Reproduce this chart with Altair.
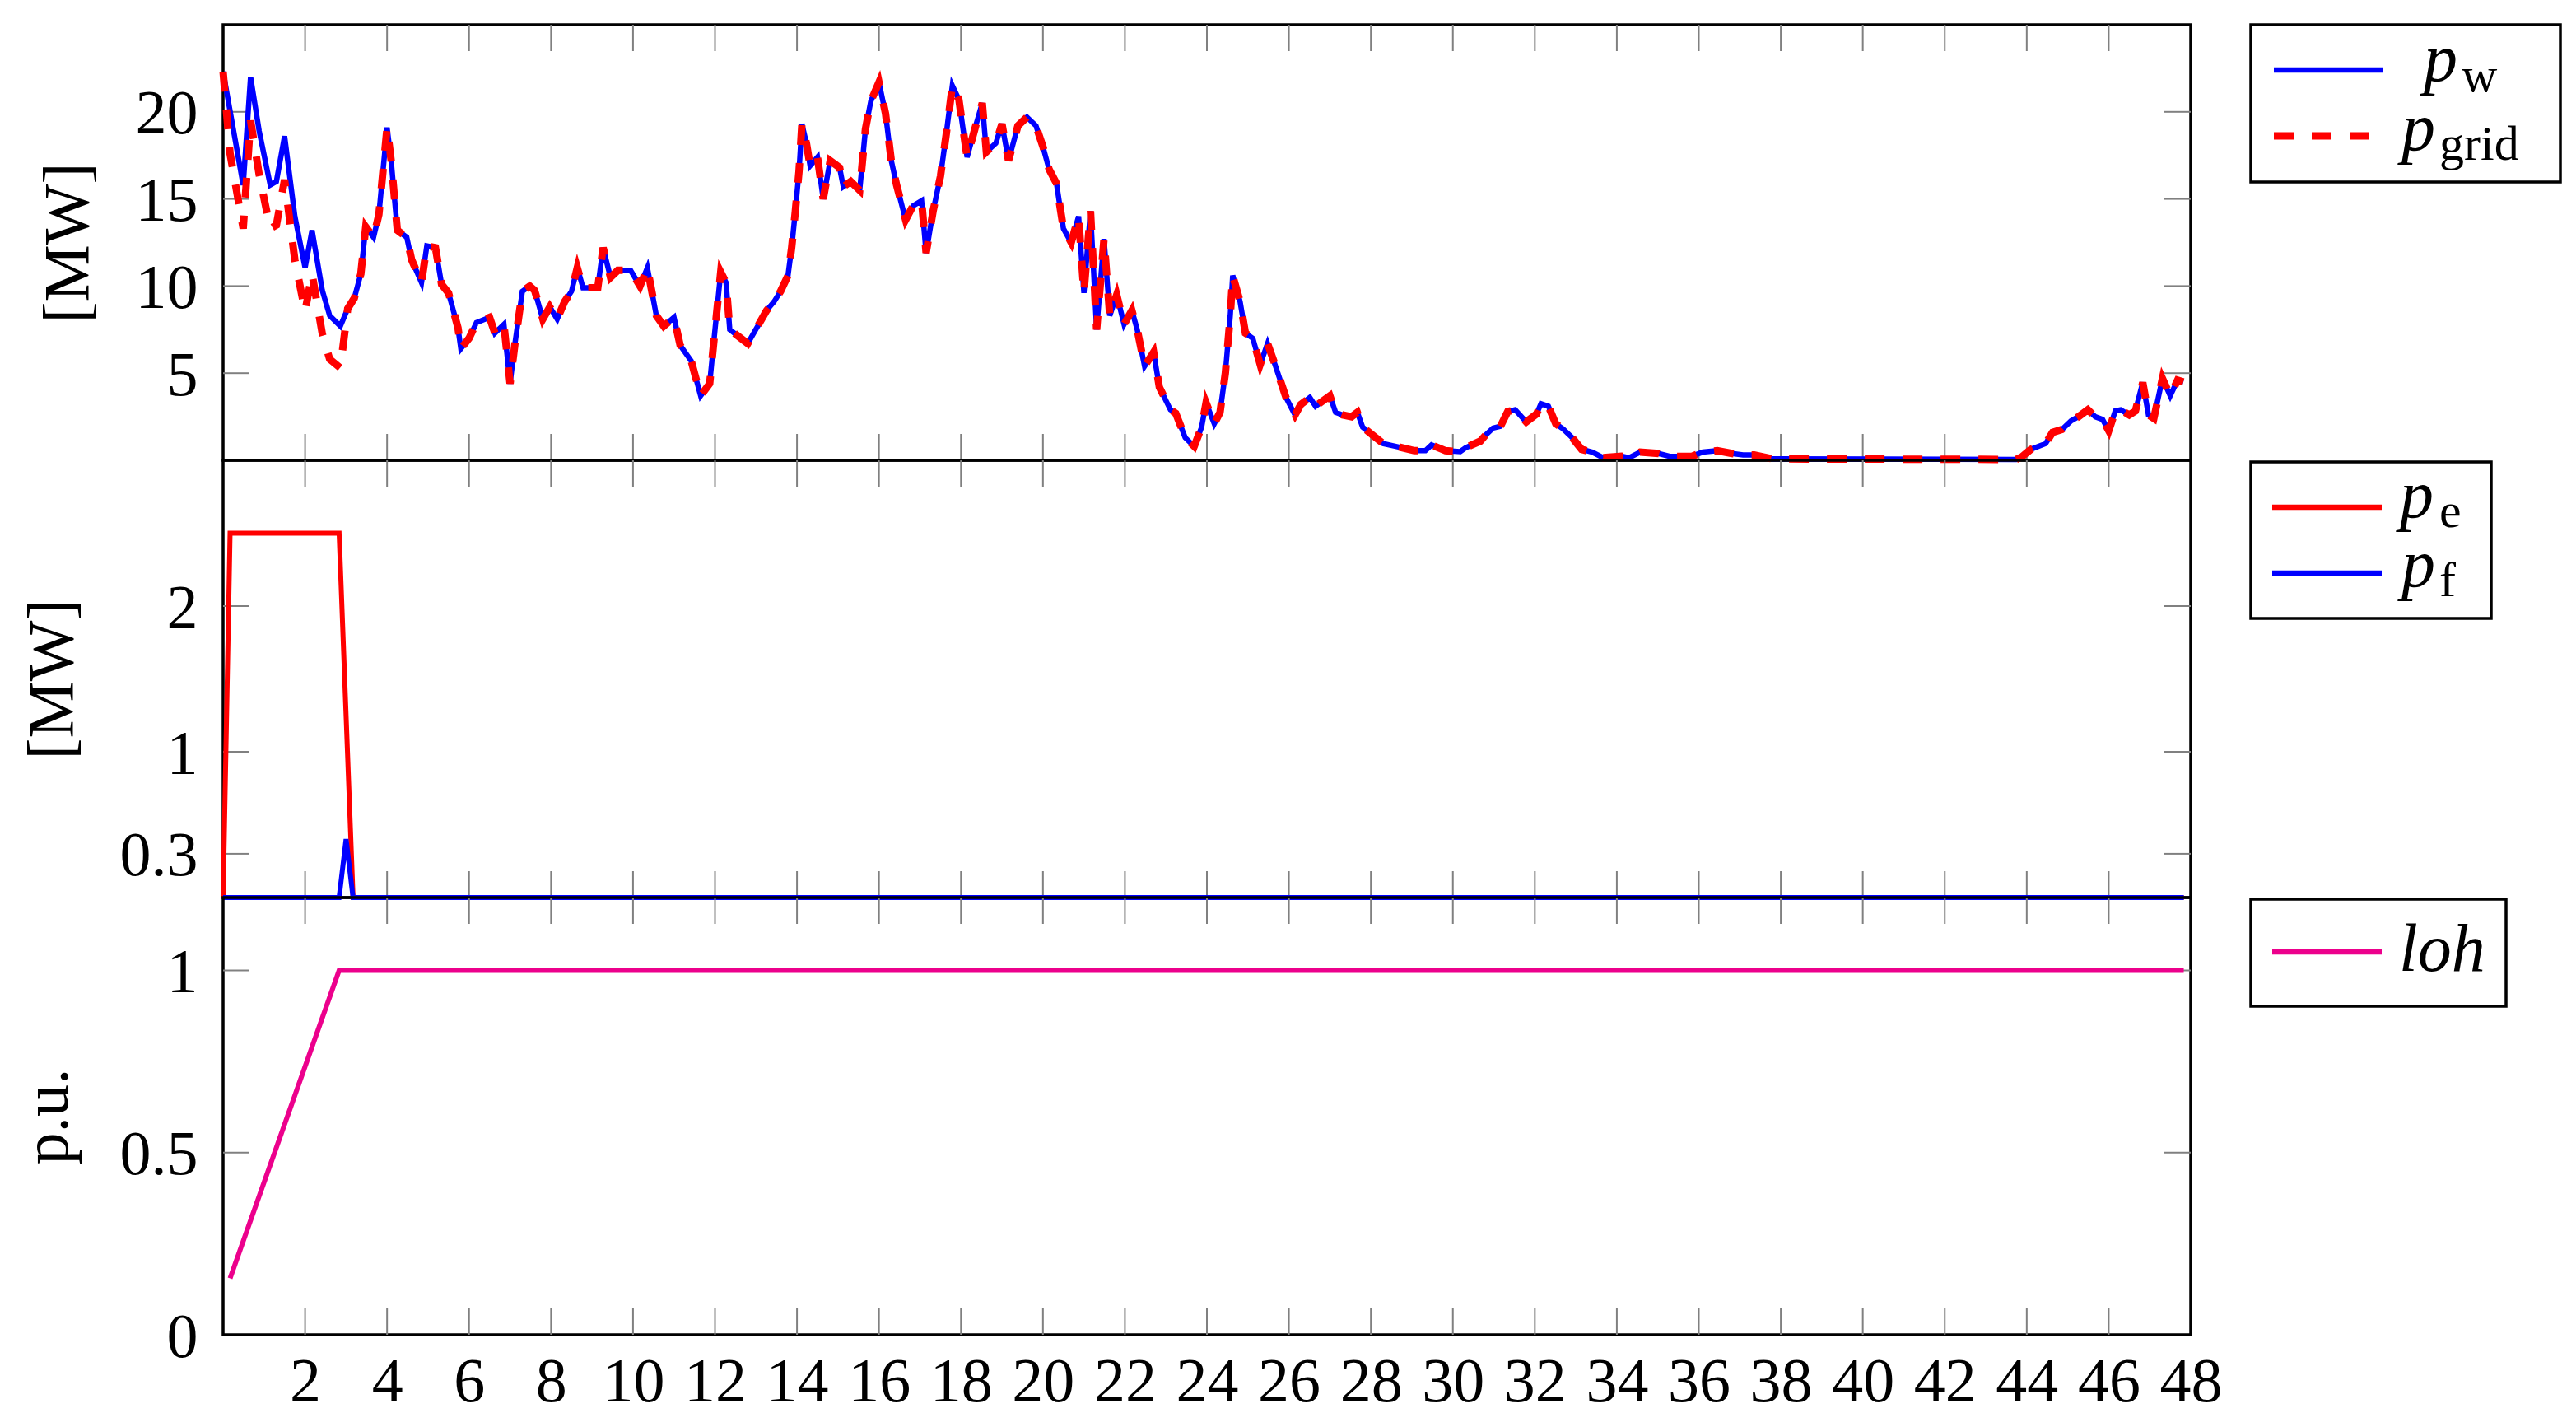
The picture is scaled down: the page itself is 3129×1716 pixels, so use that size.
import altair as alt
import pandas as pd

# ---------------- data ----------------
# wind power p_w [MW] and grid power p_grid [MW]; first hours differ, rest identical
t_head_w = [0.0, 0.49, 0.67, 0.88, 1.15, 1.30, 1.50, 1.75, 2.00, 2.17, 2.42, 2.60, 2.86]
p_head_w = [22.3, 15.8, 22.0, 18.9, 15.8, 16.0, 18.6, 14.0, 11.05, 13.2, 9.75, 8.3, 7.7]

t_head_grid = [0.0, 0.17, 0.49, 0.67, 0.88, 1.15, 1.30, 1.50, 1.75, 2.00, 2.17, 2.42, 2.60, 2.86]
p_head_grid = [22.3, 17.6, 13.3, 19.5, 16.4, 13.3, 13.5, 16.1, 11.5, 8.55, 10.7, 7.25, 5.8, 5.3]

t_shared = [
    3.04, 3.20, 3.36, 3.48, 3.67, 3.80, 4.00, 4.10, 4.25, 4.48, 4.60, 4.84, 4.97, 5.18, 5.33,
    5.50, 5.73, 5.80, 6.00, 6.18, 6.50, 6.63, 6.85, 7.00, 7.12, 7.30, 7.48, 7.60, 7.80, 7.97,
    8.15, 8.33, 8.50, 8.64, 8.78, 9.14, 9.27, 9.45, 9.63, 9.94, 10.17, 10.35, 10.57, 10.75, 11.00,
    11.15, 11.42, 11.65, 11.87, 12.00, 12.14, 12.27, 12.36, 12.80, 13.26, 13.44, 13.60, 13.78, 13.87, 13.96,
    14.05, 14.12, 14.23, 14.32, 14.50, 14.64, 14.81, 15.04, 15.13, 15.31, 15.53, 15.67, 15.80, 16.00, 16.16,
    16.30, 16.43, 16.65, 16.83, 17.04, 17.15, 17.32, 17.50, 17.64, 17.79, 17.95, 18.04, 18.15, 18.36, 18.52,
    18.62, 18.85, 19.00, 19.16, 19.39, 19.61, 19.83, 20.00, 20.15, 20.33, 20.42, 20.50, 20.69, 20.87, 21.00,
    21.16, 21.31, 21.49, 21.63, 21.80, 21.98, 22.17, 22.30, 22.48, 22.70, 22.84, 23.11, 23.24, 23.47, 23.69,
    23.87, 23.98, 24.18, 24.32, 24.45, 24.57, 24.63, 24.81, 24.94, 25.12, 25.30, 25.48, 25.66, 25.93, 26.15,
    26.29, 26.51, 26.65, 27.00, 27.14, 27.31, 27.53, 27.67, 27.80, 28.12, 28.30, 28.61, 28.92, 29.06, 29.33,
    29.48, 29.82, 30.18, 30.31, 30.67, 30.80, 30.98, 31.16, 31.34, 31.52, 31.79, 32.04, 32.15, 32.33, 32.51,
    32.69, 32.91, 33.14, 33.40, 33.67, 34.12, 34.30, 34.57, 35.02, 35.29, 35.83, 36.10, 36.45, 36.81, 37.08,
    37.35, 37.80, 43.74, 43.87, 44.10, 44.46, 44.63, 44.86, 45.08, 45.26, 45.49, 45.67, 45.85, 46.00, 46.16,
    46.29, 46.50, 46.65, 46.83, 46.97, 47.10, 47.31, 47.50, 47.68, 47.82,
]
p_shared = [
    8.7, 9.3, 10.7, 13.4, 12.8, 14.1, 19.1, 17.2, 13.2, 12.8, 11.5, 10.2, 12.3, 12.2, 10.1,
    9.6, 7.6, 6.4, 7.0, 7.9, 8.2, 7.3, 7.8, 4.4, 6.7, 9.7, 10.0, 9.75, 8.1, 8.8,
    8.1, 9.1, 9.7, 11.05, 9.9, 9.9, 12.2, 10.5, 10.9, 10.9, 10.0, 11.05, 8.3, 7.7, 8.2,
    6.6, 5.7, 3.7, 4.4, 7.5, 10.8, 10.2, 7.5, 6.7, 8.6, 9.1, 9.7, 10.6, 12.2, 14.3,
    16.6, 19.3, 18.2, 16.9, 17.4, 15.0, 17.2, 16.8, 15.7, 16.0, 15.5, 19.0, 20.6, 21.7, 19.9,
    17.2, 15.8, 13.8, 14.6, 14.9, 11.9, 14.3, 16.3, 18.7, 21.5, 20.7, 19.2, 17.4, 19.2, 20.5,
    17.7, 18.2, 19.3, 17.2, 19.2, 19.7, 19.2, 18.0, 16.7, 15.9, 14.5, 13.3, 12.5, 14.0, 9.6,
    14.3, 7.5, 12.7, 8.3, 9.5, 7.8, 8.6, 7.5, 5.4, 6.2, 4.2, 2.9, 2.7, 1.3, 0.8,
    1.9, 3.3, 2.1, 2.75, 5.0, 8.3, 10.6, 9.1, 7.3, 7.0, 5.5, 6.7, 5.5, 3.6, 2.6,
    3.2, 3.6, 3.1, 3.7, 2.75, 2.6, 2.5, 2.75, 1.9, 1.3, 0.96, 0.8, 0.63, 0.55, 0.55,
    0.88, 0.55, 0.5, 0.72, 1.1, 1.45, 1.85, 1.95, 2.8, 2.9, 2.2, 2.65, 3.25, 3.1, 2.1,
    1.8, 1.3, 0.63, 0.47, 0.15, 0.23, 0.15, 0.47, 0.39, 0.23, 0.23, 0.47, 0.55, 0.39, 0.31,
    0.31, 0.08, 0.05, 0.18, 0.63, 0.96, 1.6, 1.77, 2.26, 2.5, 2.9, 2.5, 2.34, 1.7, 2.83,
    2.9, 2.6, 2.83, 4.46, 2.6, 2.4, 4.7, 3.7, 4.6, 4.5,
]

t_w = t_head_w + t_shared
p_w = p_head_w + p_shared
t_grid = t_head_grid + t_shared
p_grid = p_head_grid + p_shared

# electrolyser p_e and fuel cell p_f [MW]
t_e = [0.0, 0.17, 2.83, 3.17, 47.83]
p_e = [0.0, 2.5, 2.5, 0.0, 0.0]
t_f = [0.0, 2.83, 3.0, 3.17, 47.83]
p_f = [0.0, 0.0, 0.4, 0.0, 0.0]

# level of hydrogen [p.u.]
t_loh = [0.17, 2.83, 47.83]
loh = [0.155, 1.0, 1.0]

x_tick_values = list(range(2, 49, 2))
x_inner_ticks = list(range(2, 47, 2))
y1_ticks = [5, 10, 15, 20]
y2_ticks = [0.3, 1, 2]
y3_ticks = [0, 0.5, 1]

# ---------------- style ----------------
W = 2390
H1, H2, H3 = 529, 531, 531
FONT = "Liberation Serif"
TICK = "#808080"
BLUE = "#0000FF"
RED = "#FF0000"
PINK = "#EC008C"
TL = 32  # inward tick length

one = pd.DataFrame({"k": [0]})


def xs():
    return alt.Scale(domain=[0, 48], nice=False, zero=False)


def ys(dom):
    return alt.Scale(domain=dom, nice=False, zero=False)


def yaxis(vals, title, tx, H):
    return alt.Axis(values=vals, title=title, format="~g", titleX=tx, titleY=H / 2,
                    titleAngle=270, titleAlign="center", titleBaseline="middle",
                    labelPadding=31, labelOffset=3, labelFlush=False, labelOverlap=False,
                    domain=False, ticks=False, tickSize=0, grid=False)


def xaxis_bottom():
    return alt.Axis(values=x_tick_values, format="d", title=None,
                    labelPadding=20, labelFlush=False, labelOverlap=False,
                    domain=False, ticks=False, tickSize=0, grid=False)


def inner_ticks(H, yt, dom, yax, xax):
    xt = pd.DataFrame({"t": x_inner_ticks})
    ydf = pd.DataFrame({"v": [v for v in yt if 0 < v < dom[1]]})
    bx = alt.Chart(xt).mark_rule(color=TICK, strokeWidth=2)
    by = alt.Chart(ydf).mark_rule(color=TICK, strokeWidth=2)
    return [
        bx.encode(x=alt.X("t:Q", scale=xs(), axis=xax), y=alt.value(0), y2=alt.value(TL)),
        bx.encode(x=alt.X("t:Q", scale=xs(), axis=xax), y=alt.value(H - TL), y2=alt.value(H)),
        by.encode(y=alt.Y("v:Q", scale=ys(dom), axis=yax), x=alt.value(0), x2=alt.value(TL)),
        by.encode(y=alt.Y("v:Q", scale=ys(dom), axis=yax), x=alt.value(W - TL), x2=alt.value(W)),
    ]


def box(x1, x2, y1, y2):
    return alt.Chart(one).mark_rect(fill="white", stroke="black", strokeWidth=3.5).encode(
        x=alt.value(x1), x2=alt.value(x2), y=alt.value(y1), y2=alt.value(y2))


def sample(x1, x2, y, color, width, dash=None):
    kw = dict(color=color, strokeWidth=width)
    if dash:
        kw["strokeDash"] = dash
    return alt.Chart(one).mark_rule(**kw).encode(x=alt.value(x1), x2=alt.value(x2), y=alt.value(y))


def label(txt, x, y, size, italic=False):
    kw = dict(text=txt, font=FONT, fontSize=size, align="left", baseline="alphabetic", color="black")
    if italic:
        kw["fontStyle"] = "italic"
    return alt.Chart(one).mark_text(**kw).encode(x=alt.value(x), y=alt.value(y))


PS = 82   # main symbol size
SS = 60   # subscript size


def sym(sub, x_main, x_sub, y_main, y_sub):
    return [label("p", x_main, y_main, PS, True), label(sub, x_sub, y_sub, SS)]


# ---------------- panel 1 ----------------
dom1 = [0, 25]
ax1 = yaxis(y1_ticks, "[MW]", -188, H1)
w_line = alt.Chart(pd.DataFrame({"t": t_w, "v": p_w})).mark_line(color=BLUE, strokeWidth=6.5).encode(
    x=alt.X("t:Q", scale=xs(), axis=None),
    y=alt.Y("v:Q", scale=ys(dom1), axis=ax1))
g_line = alt.Chart(pd.DataFrame({"t": t_grid, "v": p_grid})).mark_line(
    color=RED, strokeWidth=9, strokeDash=[24, 22]).encode(
    x=alt.X("t:Q", scale=xs(), axis=None),
    y=alt.Y("v:Q", scale=ys(dom1), axis=ax1))
leg1 = [
    box(2463, 2839, 0, 191),
    sample(2491, 2623, 55, BLUE, 6.5),
    sample(2491, 2623, 135, RED, 9, [24, 22]),
    *sym("w", 2673, 2719, 68, 81),
    *sym("grid", 2646, 2692, 152, 164),
]
panel1 = alt.layer(*inner_ticks(H1, y1_ticks, dom1, ax1, None), w_line, g_line, *leg1).properties(
    width=W, height=H1)

# ---------------- panel 2 ----------------
dom2 = [0, 3]
ax2 = yaxis(y2_ticks, "[MW]", -207, H2)
e_line = alt.Chart(pd.DataFrame({"t": t_e, "v": p_e})).mark_line(color=RED, strokeWidth=6).encode(
    x=alt.X("t:Q", scale=xs(), axis=None),
    y=alt.Y("v:Q", scale=ys(dom2), axis=ax2))
f_line = alt.Chart(pd.DataFrame({"t": t_f, "v": p_f})).mark_line(color=BLUE, strokeWidth=6).encode(
    x=alt.X("t:Q", scale=xs(), axis=None),
    y=alt.Y("v:Q", scale=ys(dom2), axis=ax2))
leg2 = [
    box(2463, 2755, 2, 192),
    sample(2489, 2622, 57, RED, 6.5),
    sample(2489, 2622, 137, BLUE, 6.5),
    *sym("e", 2644, 2692, 69, 81),
    *sym("f", 2646, 2692, 153, 165),
]
panel2 = alt.layer(*inner_ticks(H2, y2_ticks, dom2, ax2, None), e_line, f_line, *leg2).properties(
    width=W, height=H2)

# ---------------- panel 3 ----------------
dom3 = [0, 1.2]
ax3 = yaxis(y3_ticks, "p.u.", -213, H3)
axb = xaxis_bottom()
loh_line = alt.Chart(pd.DataFrame({"t": t_loh, "v": loh})).mark_line(color=PINK, strokeWidth=6).encode(
    x=alt.X("t:Q", scale=xs(), axis=axb),
    y=alt.Y("v:Q", scale=ys(dom3), axis=ax3))
leg3 = [
    box(2463, 2773, 2, 132),
    sample(2489, 2622, 66, PINK, 6.5),
    label("loh", 2643, 89, 82, True),
]
panel3 = alt.layer(*inner_ticks(H3, y3_ticks, dom3, ax3, axb), loh_line, *leg3).properties(
    width=W, height=H3)

chart = alt.vconcat(panel1, panel2, panel3, spacing=0, bounds="flush").properties(
    padding={"left": 9, "top": 18, "right": 5, "bottom": 0}
).configure_view(
    stroke="black", strokeWidth=3.5
).configure_axis(
    labelFont=FONT, labelFontSize=76, labelColor="black",
    titleFont=FONT, titleFontSize=78, titleFontWeight="normal", titleColor="black",
).configure_concat(spacing=0)

chart.save("out.html", embed_options={"renderer": "svg", "actions": False})
